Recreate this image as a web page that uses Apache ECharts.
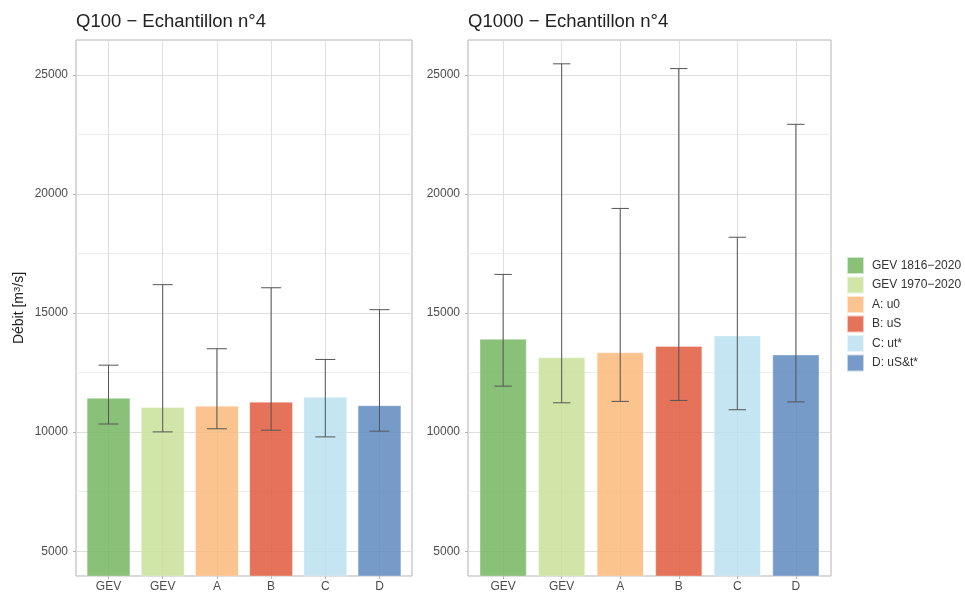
<!DOCTYPE html>
<html>
<head>
<meta charset="utf-8">
<script src="https://cdn.jsdelivr.net/npm/echarts@6/dist/echarts.min.js"></script>
<style>html,body{margin:0;padding:0;background:#fff}#c{width:965px;height:595px}</style>
</head>
<body>
<div id="c"></div>
<script>
// ---- data ----
const categories = ['GEV', 'GEV', 'A', 'B', 'C', 'D'];
const methods = ['GEV 1816\u22122020', 'GEV 1970\u22122020', 'A: u0', 'B: uS', 'C: ut*', 'D: uS&t*'];
const q100 = [11430, 11050, 11100, 11270, 11480, 11120];
const q100Low = [10340, 10010, 10140, 10080, 9800, 10040];
const q100High = [12810, 16190, 13500, 16060, 13050, 15140];
const q1000 = [13910, 13130, 13340, 13610, 14050, 13250];
const q1000Low = [11930, 11230, 11290, 11330, 10940, 11270];
const q1000High = [16620, 25460, 19390, 25260, 18180, 22920];
const yMajorTicks = [5000, 10000, 15000, 20000, 25000];
const yMinorTicks = [7500, 12500, 17500, 22500];
const panelTitles = ['Q100 \u2212 Echantillon n\u00b04', 'Q1000 \u2212 Echantillon n\u00b04'];

const colors = ['#76B662', '#C9E09A', '#FAB979', '#E05A3D', '#BCE0F0', '#5E89C0'];
const positions = categories.map((c, i) => i + 1);

const chart = echarts.init(document.getElementById('c'));
const font = '"Liberation Sans", Arial, Helvetica, sans-serif';

const grids = [
  { left: 76, top: 40, width: 336, height: 536 },
  { left: 468, top: 40, width: 363, height: 536 }
];
const barWidths = [43.4, 46.8];
const capHalf = [10, 8.7];
const panels = [
  { v: q100, lo: q100Low, hi: q100High },
  { v: q1000, lo: q1000Low, hi: q1000High }
];

const xAxes = grids.map((g, p) => ({
  type: 'value', gridIndex: p, min: 0.4, max: 6.6,
  axisLine: { show: false },
  axisTick: { show: true, length: 3, lineStyle: { color: '#b3b3b3' }, customValues: positions },
  axisLabel: { customValues: positions, margin: 5, color: '#4d4d4d', fontSize: 12, fontFamily: font,
    formatter: v => categories[Math.round(v) - 1] || '' },
  splitLine: { show: true, lineStyle: { color: '#dedede', width: 1 } }
}));

const yAxes = [];
grids.forEach((g, p) => {
  yAxes.push({
    type: 'value', gridIndex: p, min: 3960, max: 26460,
    name: p === 0 ? 'D\u00e9bit [m{sup|3}/s]' : '',
    nameLocation: 'middle', nameGap: 50,
    nameTextStyle: { fontSize: 14, color: '#222', fontFamily: font,
      rich: { sup: { fontSize: 9.5, color: '#222', fontFamily: font, verticalAlign: 'top', lineHeight: 14 } } },
    axisLine: { show: false },
    axisTick: { show: true, length: 3, lineStyle: { color: '#b3b3b3' }, customValues: yMajorTicks },
    axisLabel: { customValues: yMajorTicks, margin: 8, color: '#4d4d4d', fontSize: 12, fontFamily: font,
      formatter: v => String(v) },
    splitLine: { show: true, lineStyle: { color: '#dedede', width: 1 } }
  });
  yAxes.push({
    type: 'value', gridIndex: p, min: 3960, max: 26460,
    axisLine: { show: false },
    axisTick: { show: false, customValues: yMinorTicks },
    axisLabel: { show: false, customValues: yMinorTicks },
    splitLine: { show: true, lineStyle: { color: '#ededed', width: 1 } }
  });
});

const series = [];
panels.forEach((pd, p) => {
  methods.forEach((m, i) => {
    series.push({
      type: 'bar', name: m, xAxisIndex: p, yAxisIndex: p * 2,
      data: [[positions[i], pd.v[i]]],
      barWidth: barWidths[p], barGap: '-100%',
      itemStyle: { color: colors[i], opacity: 0.85, borderColor: 'rgba(255,255,255,0.7)', borderWidth: 0.6 },
      emphasis: { disabled: true },
      z: 2
    });
  });
  series.push({
    type: 'custom', xAxisIndex: p, yAxisIndex: p * 2, z: 5, silent: true,
    data: positions.map((x, i) => [x, pd.lo[i], pd.hi[i]]),
    renderItem: (params, api) => {
      const x = api.value(0);
      const lo = api.coord([x, api.value(1)]);
      const hi = api.coord([x, api.value(2)]);
      const h = capHalf[p];
      const style = { stroke: '#555555', lineWidth: 1 };
      return {
        type: 'group',
        children: [
          { type: 'line', shape: { x1: lo[0], y1: lo[1], x2: hi[0], y2: hi[1] }, style },
          { type: 'line', shape: { x1: lo[0] - h, y1: lo[1], x2: lo[0] + h, y2: lo[1] }, style },
          { type: 'line', shape: { x1: hi[0] - h, y1: hi[1], x2: hi[0] + h, y2: hi[1] }, style }
        ]
      };
    }
  });
});

chart.setOption({
  animation: false,
  backgroundColor: '#ffffff',
  title: panelTitles.map((t, p) => ({
    text: t, left: grids[p].left, top: 12, padding: 0,
    textStyle: { fontSize: 18.5, fontWeight: 'normal', color: '#222', fontFamily: font }
  })),
  grid: grids.map(g => Object.assign({ show: true, borderColor: '#b3b3b3', borderWidth: 1, containLabel: false }, g)),
  legend: {
    data: methods, orient: 'vertical', left: 846, top: 256, padding: 0,
    itemWidth: 17, itemHeight: 17, itemGap: 0.5, icon: 'rect', selectedMode: false,
    textStyle: { fontSize: 12, color: '#333', fontFamily: font, padding: [0, 0, 0, 3] }
  },
  xAxis: xAxes,
  yAxis: yAxes,
  series
});
</script>
</body>
</html>
